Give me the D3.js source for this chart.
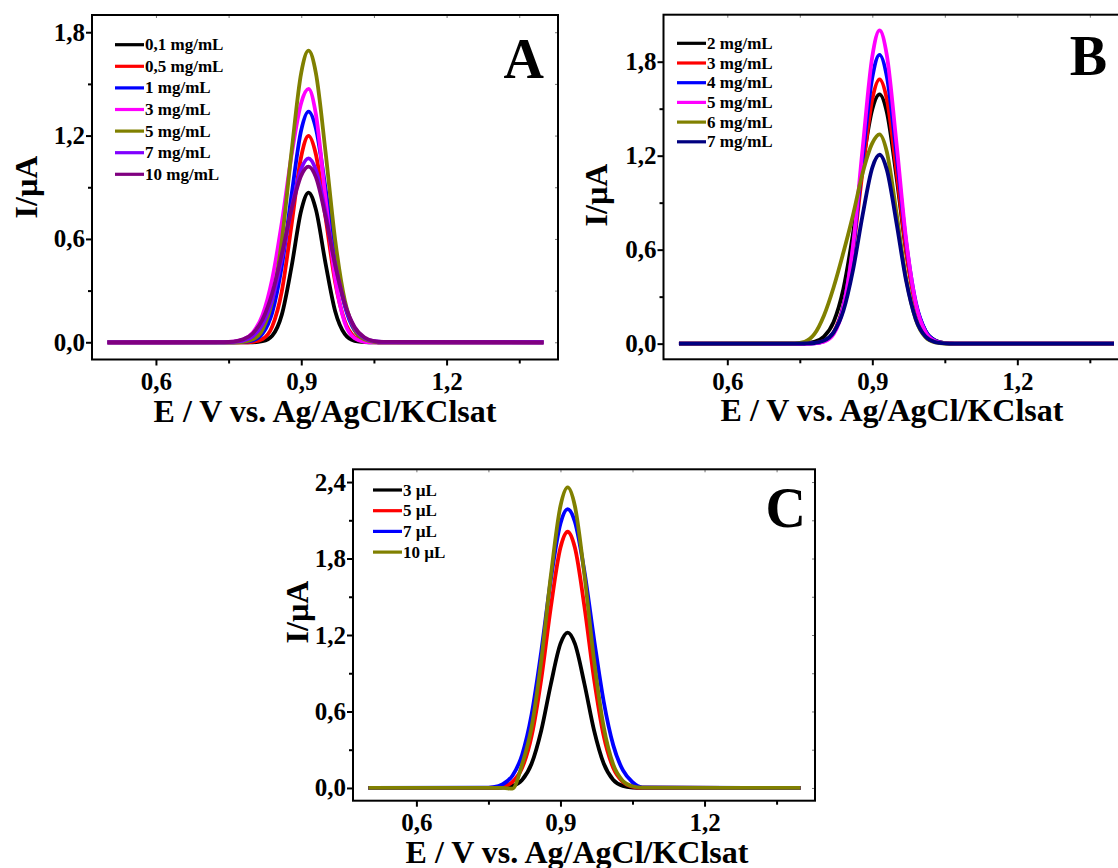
<!DOCTYPE html>
<html>
<head>
<meta charset="utf-8">
<script src="https://cdn.jsdelivr.net/npm/d3@7"></script>
<style>
  body { margin: 0; background: #fff; }
  text { font-family: "Liberation Serif", "Times New Roman", serif; font-weight: bold; }
</style>
</head>
<body>
<script>
// potential grid (V) shared by every curve
var potential = [0.50, 0.74, 0.76, 0.78, 0.80, 0.82, 0.84, 0.86, 0.88, 0.90, 0.915, 0.93, 0.95, 0.97, 0.99, 1.01, 1.03, 1.05, 1.07, 1.40];

// panel A - currents in uA
var a_0_1 = [0, 0, 0, 0, 0, 0.006, 0.038, 0.162, 0.44, 0.767, 0.869, 0.773, 0.46, 0.18, 0.047, 0.008, 0.001, 0, 0, 0];
var a_0_5 = [0, 0, 0, 0, 0.003, 0.019, 0.091, 0.299, 0.683, 1.08, 1.198, 1.093, 0.727, 0.349, 0.121, 0.03, 0.005, 0.001, 0, 0];
var a_1 = [0, 0, 0, 0.002, 0.011, 0.05, 0.172, 0.444, 0.856, 1.233, 1.339, 1.244, 0.895, 0.495, 0.211, 0.069, 0.017, 0.003, 0, 0];
var a_3 = [0, 0.001, 0.004, 0.016, 0.056, 0.158, 0.367, 0.697, 1.087, 1.391, 1.471, 1.327, 0.838, 0.367, 0.111, 0.023, 0.003, 0, 0, 0];
var a_5 = [0, 0, 0, 0.003, 0.017, 0.074, 0.241, 0.594, 1.108, 1.566, 1.693, 1.566, 1.108, 0.594, 0.241, 0.074, 0.017, 0.003, 0, 0];
var a_7 = [0, 0, 0.002, 0.01, 0.035, 0.104, 0.25, 0.489, 0.778, 1.008, 1.068, 1.002, 0.755, 0.453, 0.217, 0.083, 0.025, 0.006, 0.001, 0];
var a_10 = [0, 0.001, 0.004, 0.017, 0.051, 0.132, 0.285, 0.514, 0.773, 0.969, 1.02, 0.96, 0.732, 0.45, 0.223, 0.089, 0.029, 0.007, 0.002, 0];
var labelsA = ["0,1 mg/mL", "0,5 mg/mL", "1 mg/mL", "3 mg/mL", "5 mg/mL", "7 mg/mL", "10 mg/mL"];

// panel B
var b_2 = [0, 0, 0.002, 0.011, 0.045, 0.139, 0.348, 0.702, 1.142, 1.497, 1.591, 1.478, 1.064, 0.589, 0.25, 0.082, 0.021, 0.004, 0, 0];
var b_3 = [0, 0, 0, 0.003, 0.017, 0.074, 0.241, 0.592, 1.104, 1.561, 1.687, 1.561, 1.104, 0.592, 0.241, 0.074, 0.017, 0.003, 0, 0];
var b_4 = [0, 0, 0, 0.002, 0.015, 0.068, 0.236, 0.611, 1.179, 1.699, 1.844, 1.706, 1.207, 0.647, 0.263, 0.081, 0.019, 0.003, 0, 0];
var b_5 = [0, 0, 0, 0.002, 0.012, 0.061, 0.228, 0.623, 1.247, 1.834, 2.0, 1.842, 1.279, 0.663, 0.256, 0.074, 0.016, 0.003, 0, 0];
var b_6 = [0, 0.002, 0.012, 0.06, 0.18, 0.36, 0.58, 0.82, 1.09, 1.28, 1.336, 1.225, 0.833, 0.416, 0.153, 0.041, 0.008, 0.001, 0, 0];
var b_7 = [0, 0, 0.001, 0.004, 0.019, 0.072, 0.208, 0.469, 0.822, 1.124, 1.206, 1.111, 0.771, 0.4, 0.155, 0.045, 0.01, 0.002, 0, 0];
var labelsB = ["2 mg/mL", "3 mg/mL", "4 mg/mL", "5 mg/mL", "6 mg/mL", "7 mg/mL"];

// panel C
var c_3 = [0, 0, 0, 0.003, 0.016, 0.063, 0.192, 0.451, 0.815, 1.132, 1.219, 1.132, 0.815, 0.451, 0.192, 0.063, 0.016, 0.003, 0, 0];
var c_5 = [0, 0, 0.002, 0.011, 0.047, 0.156, 0.408, 0.853, 1.42, 1.886, 2.01, 1.886, 1.42, 0.853, 0.408, 0.156, 0.047, 0.011, 0.002, 0];
var c_7 = [0, 0.002, 0.007, 0.03, 0.096, 0.259, 0.579, 1.071, 1.638, 2.075, 2.188, 2.088, 1.695, 1.165, 0.678, 0.334, 0.139, 0.045, 0.005, 0];
var c_10 = [0, 0, 0, 0, -0.005, 0.183, 0.479, 1.0, 1.666, 2.212, 2.358, 2.212, 1.666, 1.0, 0.479, 0.183, 0.055, 0.013, 0.002, 0];
var labelsC = ["3 \u00b5L", "5 \u00b5L", "7 \u00b5L", "10 \u00b5L"];

// ticks
var xMajor = [0.6, 0.9, 1.2];
var xMinor = [0.75, 1.05, 1.35];
var yMajorAB = [0, 0.6, 1.2, 1.8];
var yMinorAB = [0.3, 0.9, 1.5];
var yMajorC = [0, 0.6, 1.2, 1.8, 2.4];
var yMinorC = [0.3, 0.9, 1.5, 2.1];

var colorsA = ["#000000", "#ff0000", "#0000ff", "#ff00ff", "#808000", "#8000ff", "#800080"];
var colorsB = ["#000000", "#ff0000", "#0000ff", "#ff00ff", "#808000", "#000080"];
var colorsC = ["#000000", "#ff0000", "#0000ff", "#808000"];

var svg = d3.select("body").append("svg").attr("width", 1118).attr("height", 868);

var fmt = function(d) { return d3.format(".1f")(d).replace(".", ","); };

var panels = [
    {letter: "A", series: [a_0_1, a_0_5, a_1, a_3, a_5, a_7, a_10], labels: labelsA, colors: colorsA,
     left: 92, top: 15, width: 466, bottom: 359.5, yDomain: [-0.1, 1.9], yMajor: yMajorAB, yMinor: yMinorAB,
     letterPos: [544, 78], legend: [115, 44.7, 21.6], yTitle: [37, 187], xTitle: [325, 422]},
    {letter: "B", series: [b_2, b_3, b_4, b_5, b_6, b_7], labels: labelsB, colors: colorsB,
     left: 663.5, top: 14.7, width: 465, bottom: 359.3, yDomain: [-0.1, 2.1], yMajor: yMajorAB, yMinor: yMinorAB,
     letterPos: [1107, 75], legend: [677, 43.3, 19.7], yTitle: [607, 195], xTitle: [892, 421]},
    {letter: "C", series: [c_3, c_5, c_7, c_10], labels: labelsC, colors: colorsC,
     left: 353, top: 469.3, width: 462, bottom: 800.7, yDomain: [-0.1, 2.5], yMajor: yMajorC, yMinor: yMinorC,
     letterPos: [806, 527], legend: [373, 490, 20.7], yTitle: [308, 612], xTitle: [577, 863]}
];

panels.forEach(drawPanel);

function drawPanel(p) {
    var x = d3.scaleLinear().domain([0.468, 1.43]).range([p.left, p.left + p.width]),
        y = d3.scaleLinear().domain(p.yDomain).range([p.bottom, p.top]);
    var g = svg.append("g");

    // bottom axis
    g.append("g").attr("transform", "translate(0," + p.bottom + ")")
        .call(d3.axisBottom(x).tickValues(xMajor).tickFormat(fmt).tickSizeInner(6).tickSizeOuter(0).tickPadding(7))
        .call(styleAxis);
    g.append("g").attr("transform", "translate(0," + p.bottom + ")")
        .call(d3.axisBottom(x).tickValues(xMinor).tickFormat("").tickSizeInner(4).tickSizeOuter(0))
        .call(styleAxis);
    // left axis
    g.append("g").attr("transform", "translate(" + p.left + ",0)")
        .call(d3.axisLeft(y).tickValues(p.yMajor).tickFormat(fmt).tickSizeInner(6).tickSizeOuter(0).tickPadding(1))
        .call(styleAxis);
    g.append("g").attr("transform", "translate(" + p.left + ",0)")
        .call(d3.axisLeft(y).tickValues(p.yMinor).tickFormat("").tickSizeInner(4).tickSizeOuter(0))
        .call(styleAxis);
    // mirrored top / right, tiny inward ticks
    g.append("g").attr("transform", "translate(0," + p.top + ")")
        .call(d3.axisTop(x).tickValues(xMajor.concat(xMinor)).tickFormat("").tickSizeInner(-3).tickSizeOuter(0))
        .call(styleAxis).selectAll("line").attr("stroke", "#777").attr("stroke-width", 1);
    g.append("g").attr("transform", "translate(" + (p.left + p.width) + ",0)")
        .call(d3.axisRight(y).tickValues(p.yMajor.concat(p.yMinor)).tickFormat("").tickSizeInner(-3).tickSizeOuter(0))
        .call(styleAxis).selectAll("line").attr("stroke", "#777").attr("stroke-width", 1);

    // curves
    var line = d3.line()
        .x(function(d, i) { return x(potential[i]); })
        .y(function(d) { return y(d); })
        .curve(d3.curveMonotoneX);
    g.selectAll(".curve")
        .data(p.series)
        .enter().append("path")
        .attr("class", "curve")
        .attr("fill", "none")
        .attr("stroke", function(d, i) { return p.colors[i]; })
        .attr("stroke-width", 3.8)
        .attr("stroke-linejoin", "round")
        .attr("d", line);

    // frame
    g.append("rect")
        .attr("x", p.left).attr("y", p.top)
        .attr("width", p.width).attr("height", p.bottom - p.top)
        .attr("fill", "none").attr("stroke", "#000").attr("stroke-width", 2);

    // legend
    var lg = g.append("g");
    p.labels.forEach(function(lab, i) {
        var yy = p.legend[1] + i * p.legend[2];
        lg.append("line")
            .attr("x1", p.legend[0]).attr("x2", p.legend[0] + 29)
            .attr("y1", yy).attr("y2", yy)
            .attr("stroke", p.colors[i]).attr("stroke-width", 3.2);
        lg.append("text")
            .attr("x", p.legend[0] + 30).attr("y", yy + 5.5)
            .attr("font-size", 17)
            .text(lab);
    });

    // panel letter
    g.append("text")
        .attr("x", p.letterPos[0]).attr("y", p.letterPos[1])
        .attr("text-anchor", "end").attr("font-size", 56)
        .text(p.letter);

    // axis titles
    g.append("text")
        .attr("x", p.xTitle[0]).attr("y", p.xTitle[1])
        .attr("text-anchor", "middle").attr("font-size", 32)
        .text("E / V vs. Ag/AgCl/KClsat");
    g.append("text")
        .attr("transform", "translate(" + p.yTitle[0] + "," + p.yTitle[1] + ") rotate(-90)")
        .attr("text-anchor", "middle").attr("font-size", 32)
        .text("I/\u00b5A");
}

function styleAxis(sel) {
    sel.select(".domain").remove();
    sel.selectAll("line").attr("stroke", "#000").attr("stroke-width", 2);
    sel.selectAll("text")
        .attr("fill", "#000")
        .style("font-family", "'Liberation Serif', 'Times New Roman', serif")
        .style("font-weight", "bold")
        .style("font-size", "25px");
}
</script>
</body>
</html>
